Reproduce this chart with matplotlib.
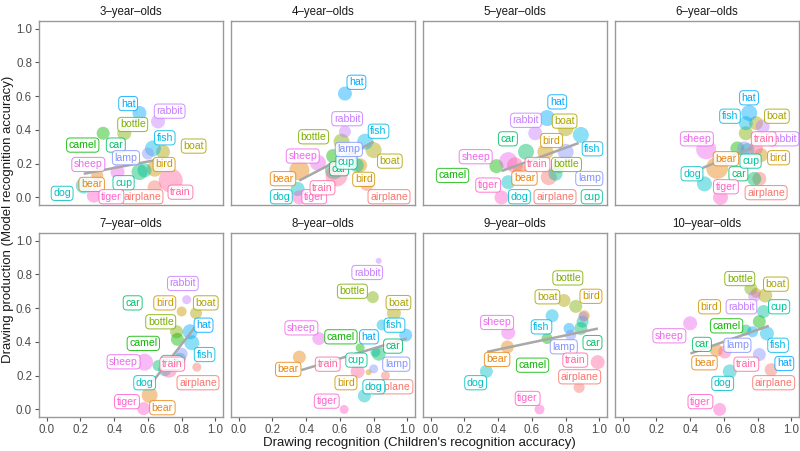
import matplotlib
matplotlib.use("Agg")
import matplotlib.pyplot as plt

plt.rcParams['font.family'] = ['Liberation Sans', 'DejaVu Sans']

categories = ["airplane", "bear", "bird", "boat", "bottle", "camel", "car", "cup",
              "dog", "fish", "hat", "lamp", "rabbit", "sheep", "tiger", "train"]
panel_titles = ["3–year–olds", "4–year–olds", "5–year–olds", "6–year–olds",
                "7–year–olds", "8–year–olds", "9–year–olds", "10–year–olds"]
colors = ["#F8766D", "#E68613", "#CD9600", "#ABA300", "#7CAE00", "#0CB702", "#00BE67", "#00C19A",
          "#00BFC4", "#00B8E7", "#00A9FF", "#8494FF", "#C77CFF", "#ED68ED", "#FF61CC", "#FF68A1"]
x_ticks = [0.0, 0.2, 0.4, 0.6, 0.8, 1.0]
y_ticks = [0.0, 0.2, 0.4, 0.6, 0.8, 1.0]

# children's recognition accuracy (x), model recognition accuracy (y), point size, per age
recog_3 = [0.64, 0.30, 0.64, 0.69, 0.46, 0.335, 0.55, 0.58, 0.22, 0.63, 0.55, 0.60, 0.66, 0.42, 0.28, 0.735]
prod_3 = [0.06, 0.13, 0.17, 0.27, 0.38, 0.38, 0.15, 0.16, 0.07, 0.29, 0.50, 0.26, 0.45, 0.15, 0.01, 0.10]
size_3 = [7, 6, 8, 7, 7, 6.5, 8, 7, 8, 8, 7, 6, 7, 7, 7, 12]

recog_4 = [0.76, 0.36, 0.72, 0.80, 0.61, 0.56, 0.565, 0.70, 0.35, 0.75, 0.63, 0.67, 0.63, 0.47, 0.36, 0.58]
prod_4 = [0.08, 0.16, 0.19, 0.28, 0.33, 0.245, 0.16, 0.19, 0.05, 0.33, 0.615, 0.255, 0.39, 0.205, 0.0, 0.13]
size_4 = [7, 10, 7, 8, 8, 7, 9, 7, 7, 8, 7, 7, 6, 8, 7, 11]

recog_5 = [0.70, 0.53, 0.68, 0.80, 0.76, 0.39, 0.565, 0.74, 0.46, 0.89, 0.69, 0.80, 0.62, 0.46, 0.42, 0.50]
prod_5 = [0.12, 0.16, 0.27, 0.41, 0.185, 0.185, 0.27, 0.14, 0.09, 0.37, 0.47, 0.27, 0.38, 0.215, 0.0, 0.19]
size_5 = [8, 7, 8, 8, 7, 7, 8, 7, 7, 8, 8, 8, 7, 9, 7, 8]

recog_6 = [0.81, 0.56, 0.82, 0.79, 0.73, 0.68, 0.78, 0.74, 0.485, 0.73, 0.75, 0.72, 0.83, 0.495, 0.58, 0.79]
prod_6 = [0.11, 0.175, 0.25, 0.44, 0.38, 0.29, 0.11, 0.28, 0.08, 0.44, 0.50, 0.29, 0.42, 0.285, 0.0, 0.29]
size_6 = [7, 11, 7, 7, 7, 7, 7, 7, 7.5, 7, 8, 7, 7, 10, 7.5, 7]

recog_7 = [0.89, 0.61, 0.80, 0.885, 0.77, 0.775, 0.66, 0.79, 0.70, 0.86, 0.85, 0.80, 0.83, 0.58, 0.575, 0.725]
prod_7 = [0.25, 0.085, 0.58, 0.57, 0.46, 0.415, 0.26, 0.30, 0.235, 0.395, 0.46, 0.33, 0.65, 0.28, 0.005, 0.235]
size_7 = [4.5, 8, 5, 6, 6.5, 6.5, 5.5, 6, 6.5, 7.5, 7.5, 6, 4.5, 8.5, 6.5, 8]

recog_8 = [0.87, 0.36, 0.77, 0.92, 0.795, 0.72, 0.83, 0.81, 0.745, 0.85, 0.99, 0.80, 0.83, 0.475, 0.625, 0.705]
prod_8 = [0.20, 0.31, 0.22, 0.57, 0.665, 0.365, 0.33, 0.34, 0.08, 0.50, 0.44, 0.24, 0.88, 0.42, 0.0, 0.225]
size_8 = [4.5, 6.5, 3, 7, 6, 4.5, 7, 5, 6.5, 5.5, 6.5, 4.5, 3, 6.5, 4.5, 7]

recog_9 = [0.88, 0.455, 0.91, 0.79, 0.86, 0.69, 0.89, 0.90, 0.33, 0.72, 0.82, 0.83, 0.905, 0.46, 0.645, 0.99]
prod_9 = [0.13, 0.37, 0.555, 0.645, 0.61, 0.42, 0.48, 0.52, 0.225, 0.555, 0.48, 0.44, 0.55, 0.455, 0.0, 0.28]
size_9 = [5.5, 6.5, 5.5, 6.5, 6.5, 5.5, 6.5, 6, 6.5, 6.5, 5.5, 5.5, 5, 7, 5, 7]

recog_10 = [0.88, 0.555, 0.79, 0.845, 0.76, 0.81, 0.73, 0.835, 0.635, 0.855, 0.77, 0.81, 0.78, 0.40, 0.575, 0.605]
prod_10 = [0.235, 0.35, 0.69, 0.675, 0.715, 0.52, 0.47, 0.58, 0.225, 0.45, 0.46, 0.325, 0.67, 0.51, 0.0, 0.34]
size_10 = [6.5, 6.5, 5, 7, 6.5, 6.5, 5.5, 6.5, 7, 7, 5.5, 6.5, 6, 7, 6.5, 6.5]

# linear fit per age: start x, start y, end x, end y
fit_x0 = [0.22, 0.36, 0.42, 0.475, 0.628, 0.372, 0.335, 0.402]
fit_y0 = [0.14, 0.10, 0.156, 0.175, 0.164, 0.233, 0.341, 0.331]
fit_x1 = [0.64, 0.80, 0.877, 0.768, 0.88, 0.996, 0.991, 0.866]
fit_y1 = [0.22, 0.33, 0.322, 0.294, 0.489, 0.42, 0.479, 0.495]

# label anchor positions (layout, not data)
labels_3 = [(0.565, 0.004), (0.267, 0.077), (0.696, 0.195), (0.871, 0.304), (0.51, 0.432), (0.214, 0.31),
            (0.41, 0.31), (0.456, 0.087), (0.092, 0.024), (0.70, 0.353), (0.483, 0.556), (0.47, 0.235),
            (0.729, 0.511), (0.247, 0.195), (0.384, 0.004), (0.793, 0.031)]
labels_4 = [(0.891, 0.004), (0.263, 0.111), (0.741, 0.107), (0.896, 0.215), (0.444, 0.359), None,
            (0.595, 0.17), (0.639, 0.209), (0.253, 0.004), (0.829, 0.392), (0.698, 0.682), (0.653, 0.284),
            (0.643, 0.466), (0.38, 0.245), (0.448, 0.004), (0.497, 0.057)]
labels_5 = [(0.737, 0.004), (0.556, 0.114), (0.717, 0.337), (0.794, 0.452), (0.805, 0.195), (0.13, 0.13),
            (0.458, 0.347), (0.955, 0.004), (0.526, 0.004), (0.959, 0.288), (0.75, 0.566), (0.94, 0.112),
            (0.565, 0.457), (0.267, 0.241), (0.341, 0.073), (0.633, 0.195)]
labels_6 = [(0.85, 0.028), (0.612, 0.229), (0.924, 0.235), (0.914, 0.481), None, None,
            (0.686, 0.14), (0.758, 0.215), (0.411, 0.14), (0.636, 0.481), (0.749, 0.59), None,
            (0.953, 0.347), (0.44, 0.347), (0.612, 0.063), (0.836, 0.347)]
labels_7 = [(0.897, 0.158), (0.686, 0.01), (0.70, 0.631), (0.943, 0.631), (0.676, 0.519), (0.573, 0.391),
            (0.51, 0.631), (0.74, 0.278), (0.581, 0.158), (0.936, 0.325), (0.93, 0.499), None,
            (0.807, 0.746), (0.456, 0.282), (0.476, 0.046), (0.744, 0.268)]
labels_8 = [(0.908, 0.134), (0.294, 0.237), (0.636, 0.158), (0.947, 0.633), (0.674, 0.70), (0.606, 0.43),
            (0.915, 0.375), (0.698, 0.292), (0.801, 0.134), (0.924, 0.499), (0.772, 0.43), (0.934, 0.268),
            (0.762, 0.811), (0.372, 0.483), (0.522, 0.049), (0.528, 0.268)]
labels_9 = [(0.883, 0.193), (0.394, 0.296), (0.95, 0.67), (0.692, 0.667), (0.813, 0.779), (0.604, 0.262),
            (0.959, 0.396), None, (0.267, 0.158), (0.657, 0.489), None, (0.789, 0.371),
            None, (0.394, 0.515), (0.575, 0.065), (0.857, 0.292)]
labels_10 = [(0.895, 0.158), (0.485, 0.276), (0.515, 0.608), (0.908, 0.742), (0.694, 0.775), (0.616, 0.495),
             (0.47, 0.385), (0.927, 0.608), (0.593, 0.154), (0.921, 0.38), (0.958, 0.272), (0.68, 0.38),
             (0.704, 0.608), (0.277, 0.436), (0.461, 0.046), (0.733, 0.268)]

recogs = [recog_3, recog_4, recog_5, recog_6, recog_7, recog_8, recog_9, recog_10]
prods = [prod_3, prod_4, prod_5, prod_6, prod_7, prod_8, prod_9, prod_10]
sizes = [size_3, size_4, size_5, size_6, size_7, size_8, size_9, size_10]
label_sets = [labels_3, labels_4, labels_5, labels_6, labels_7, labels_8, labels_9, labels_10]

W, H = 800, 451
fig = plt.figure(figsize=(W / 100, H / 100), dpi=100)

col_left = [39, 231, 423, 615]
row_top = [21, 233]
pw, ph = 184, 184
grey_txt = "#4D4D4D"

for i in range(8):
    r, c = divmod(i, 4)
    ax = fig.add_axes([col_left[c] / W, 1 - (row_top[r] + ph) / H, pw / W, ph / H])
    xs, ys, ss = recogs[i], prods[i], sizes[i]
    ax.scatter(xs, ys, s=[(1.44 * v) ** 2 for v in ss], c=colors, alpha=0.45,
               linewidths=0, zorder=2)
    ax.plot([fit_x0[i], fit_x1[i]], [fit_y0[i], fit_y1[i]], color="#A8A8A8", lw=1.8,
            solid_capstyle="butt", zorder=3)
    for k, pos in enumerate(label_sets[i]):
        if pos is None:
            continue
        ax.text(pos[0], pos[1], categories[k], color=colors[k], fontsize=7.6,
                ha="center", va="center", zorder=4 + k * 0.01,
                bbox=dict(boxstyle="round,pad=0.2,rounding_size=0.35", facecolor="white",
                          edgecolor=colors[k], alpha=0.85, linewidth=0.7))
    ax.set_xlim(-0.045, 1.045)
    ax.set_ylim(-0.045, 1.045)
    ax.set_xticks(x_ticks)
    ax.set_yticks(y_ticks)
    ax.set_title(panel_titles[i], fontsize=8.3, color="#1A1A1A", pad=4)
    for sp in ax.spines.values():
        sp.set_color("#999999")
        sp.set_linewidth(1.0)
    ax.tick_params(colors="#555555", labelcolor=grey_txt, labelsize=8.3, length=3, width=0.8, pad=2)
    if r == 0:
        ax.tick_params(axis="x", bottom=False, labelbottom=False)
    else:
        ax.set_xticklabels([f"{t:.1f}" for t in x_ticks])
    if c != 0:
        ax.tick_params(axis="y", left=False, labelleft=False)
    else:
        ax.set_yticklabels([f"{t:.1f}" for t in y_ticks])

fig.text(8 / W, 1 - 219.5 / H, "Drawing production (Model recognition accuracy)", rotation=90,
         ha="center", va="center", fontsize=9.5, color="#1A1A1A")
fig.text(419 / W, 1 - 443 / H, "Drawing recognition (Children's recognition accuracy)",
         ha="center", va="center", fontsize=9.5, color="#1A1A1A")

fig.savefig("out.png", dpi=100)
